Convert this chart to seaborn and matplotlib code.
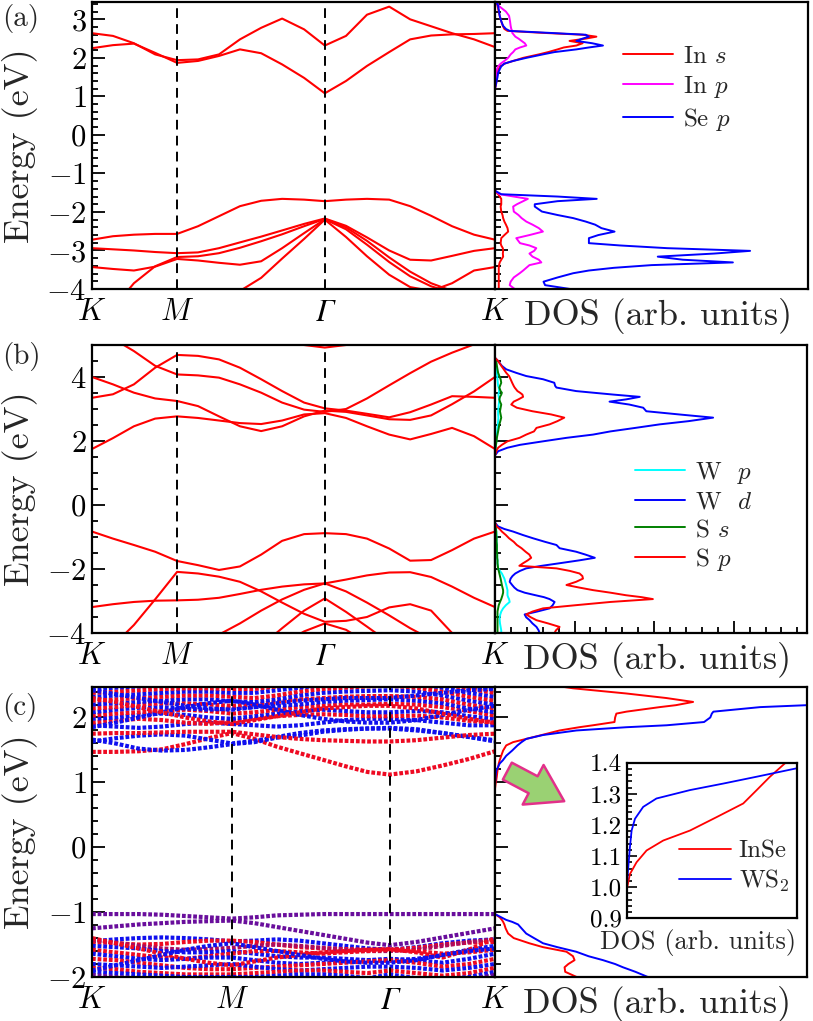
import matplotlib
matplotlib.use("Agg")
import numpy as np
import pandas as pd
import seaborn as sns
import matplotlib.pyplot as plt
from matplotlib.ticker import MultipleLocator, NullLocator, FormatStrFormatter
from matplotlib.patches import FancyArrowPatch
from matplotlib.colors import to_rgb

# ======================= DATA =======================
# k-path K-M-Gamma-K for panels (a) and (b)
k_ab = [0.000, 0.082, 0.164, 0.247, 0.333, 0.415, 0.497, 0.579, 0.662, 0.744,
        0.830, 0.911, 0.994, 1.076, 1.163, 1.245, 1.327, 1.409, 1.495, 1.577]
kpts_ab = [0.000, 0.333, 0.911, 1.577]
kpt_labels = ['$K$', '$M$', 'Γ', '$K$']

# (a) InSe bands (eV)
a_cb1 = [2.25, 2.33, 2.37, 2.13, 1.87, 1.92, 2.05, 2.22, 2.12, 1.83, 1.48, 1.08, 1.40, 1.79, 2.15, 2.48, 2.58, 2.61, 2.62, 2.64]
a_cb2 = [2.64, 2.57, 2.38, 2.09, 1.94, 1.96, 2.09, 2.48, 2.78, 3.02, 2.74, 2.32, 2.57, 3.12, 3.33, 3.00, 2.82, 2.64, 2.48, 2.28]
a_vb1 = [-2.72, -2.63, -2.59, -2.57, -2.57, -2.37, -2.11, -1.85, -1.71, -1.66, -1.68, -1.72, -1.68, -1.66, -1.68, -1.85, -2.10, -2.37, -2.59, -2.72]
a_vb2 = [-2.94, -2.97, -3.00, -3.04, -3.07, -3.05, -2.94, -2.79, -2.64, -2.48, -2.31, -2.17, -2.36, -2.66, -3.00, -3.24, -3.26, -3.14, -3.01, -2.94]
a_vb3 = [-3.43, -3.48, -3.52, -3.42, -3.22, -3.26, -3.32, -3.37, -3.28, -2.94, -2.55, -2.19, -2.45, -2.85, -3.30, -3.67, -3.93, -4.10, -4.30, -4.50]
a_vb4 = [-4.80, -4.50, -3.85, -3.41, -3.17, -3.15, -3.07, -2.93, -2.76, -2.58, -2.37, -2.18, -2.40, -2.75, -3.18, -3.55, -3.85, -4.05, -4.25, -4.40]
a_vb5 = [-6.00, -5.70, -5.40, -5.10, -4.90, -4.60, -4.30, -4.05, -3.71, -3.21, -2.70, -2.20, -2.65, -3.15, -3.63, -3.95, -4.05, -3.85, -3.52, -3.43]

# (b) WS2 bands (eV)
b_cb1 = [1.75, 2.09, 2.46, 2.70, 2.77, 2.72, 2.64, 2.56, 2.53, 2.64, 2.83, 2.87, 2.72, 2.46, 2.20, 2.05, 2.22, 2.41, 2.15, 1.75]
b_cb2 = [4.00, 3.77, 3.51, 3.33, 3.25, 3.09, 2.77, 2.46, 2.31, 2.46, 2.77, 2.95, 2.91, 2.80, 2.68, 2.66, 2.80, 3.15, 3.55, 4.00]
b_cb3 = [3.35, 3.46, 3.77, 4.29, 4.69, 4.66, 4.55, 4.29, 3.93, 3.56, 3.20, 3.02, 2.95, 2.85, 2.74, 2.90, 3.14, 3.40, 3.38, 3.35]
b_cb4 = [5.60, 5.20, 4.81, 4.35, 4.08, 4.05, 3.98, 3.77, 3.51, 3.20, 2.98, 2.91, 3.00, 3.33, 3.74, 4.12, 4.48, 4.76, 5.02, 5.30]
b_cb5 = [6.50, 6.30, 6.10, 5.90, 5.80, 5.70, 5.50, 5.35, 5.20, 5.08, 5.00, 4.92, 5.00, 5.08, 5.20, 5.40, 5.60, 5.80, 6.00, 6.20]
b_vb1 = [-0.83, -1.05, -1.25, -1.46, -1.75, -1.88, -2.03, -1.92, -1.55, -1.12, -0.91, -0.88, -0.91, -1.05, -1.36, -1.74, -1.72, -1.41, -1.05, -0.83]
b_vb2 = [-5.00, -4.40, -3.75, -2.95, -2.09, -2.14, -2.24, -2.40, -2.70, -3.05, -3.40, -3.65, -3.62, -3.50, -3.20, -3.10, -3.30, -4.00, -4.50, -4.90]
b_vb3 = [-3.19, -3.10, -3.03, -2.99, -2.98, -2.96, -2.90, -2.78, -2.65, -2.55, -2.48, -2.45, -2.33, -2.20, -2.11, -2.10, -2.25, -2.55, -2.90, -3.19]
b_vb4 = [-6.00, -5.60, -5.30, -5.00, -4.80, -4.60, -4.05, -3.70, -3.30, -2.95, -2.65, -2.45, -2.70, -3.05, -3.45, -3.85, -4.20, -4.50, -4.80, -5.00]
b_vb5 = [-6.50, -6.30, -6.10, -5.90, -5.70, -5.50, -5.20, -4.80, -4.40, -3.85, -3.30, -2.92, -3.34, -3.80, -4.30, -4.80, -5.20, -5.50, -5.80, -6.00]
b_vb6 = [-7.00, -6.80, -6.60, -6.40, -6.20, -6.00, -5.60, -5.10, -4.70, -4.35, -3.95, -3.70, -3.90, -4.30, -4.70, -5.10, -5.50, -5.80, -6.10, -6.30]

# (a) projected DOS (arb. units, fraction of axis width)
dosa_E_c = [3.45, 3.35, 3.20, 3.09, 2.95, 2.83, 2.75, 2.70, 2.65, 2.60, 2.55, 2.50, 2.44, 2.38,
            2.32, 2.27, 2.22, 2.15, 2.09, 2.00, 1.92, 1.85, 1.78, 1.70, 1.61, 1.50, 1.35, 1.20]
dosa_Ins_c = [0.005, 0.008, 0.012, 0.015, 0.02, 0.025, 0.03, 0.04, 0.15, 0.28, 0.324, 0.29, 0.238, 0.28,
              0.26, 0.22, 0.20, 0.17, 0.14, 0.09, 0.058, 0.03, 0.018, 0.01, 0.008, 0.006, 0.004, 0.0]
dosa_Inp_c = [0.005, 0.012, 0.035, 0.045, 0.048, 0.05, 0.052, 0.055, 0.055, 0.06, 0.065, 0.075, 0.085, 0.095,
              0.10, 0.08, 0.065, 0.058, 0.05, 0.042, 0.03, 0.018, 0.01, 0.006, 0.004, 0.003, 0.002, 0.0]
dosa_Sep_c = [0.005, 0.01, 0.013, 0.015, 0.02, 0.026, 0.035, 0.047, 0.17, 0.29, 0.30, 0.28, 0.26, 0.31,
              0.345, 0.30, 0.26, 0.19, 0.153, 0.10, 0.058, 0.03, 0.02, 0.015, 0.01, 0.008, 0.004, 0.0]
dosa_E_v = [-1.45, -1.54, -1.60, -1.66, -1.72, -1.80, -1.86, -1.99, -2.08, -2.16, -2.25, -2.33, -2.42, -2.51, -2.60, -2.68,
            -2.81, -2.87, -2.94, -3.01, -3.08, -3.16, -3.24, -3.31, -3.38, -3.45, -3.52, -3.59, -3.70, -3.81, -3.90, -4.00]
dosa_Ins_v = [0, 0.01, 0.015, 0.02, 0.02, 0.02, 0.018, 0.02, 0.024, 0.026, 0.03, 0.035, 0.04, 0.042, 0.03, 0.02,
              0.018, 0.02, 0.025, 0.026, 0.025, 0.026, 0.02, 0.015, 0.013, 0.012, 0.012, 0.012, 0.012, 0.012, 0.012, 0.012]
dosa_Inp_v = [0, 0.015, 0.06, 0.105, 0.09, 0.07, 0.058, 0.06, 0.075, 0.085, 0.10, 0.12, 0.14, 0.153, 0.11, 0.068,
              0.08, 0.11, 0.132, 0.125, 0.11, 0.12, 0.14, 0.148, 0.11, 0.10, 0.09, 0.079, 0.06, 0.05, 0.047, 0.063]
dosa_Sep_v = [0, 0.02, 0.20, 0.325, 0.20, 0.127, 0.127, 0.15, 0.20, 0.25, 0.29, 0.32, 0.34, 0.382, 0.33, 0.30,
              0.30, 0.40, 0.55, 0.815, 0.70, 0.52, 0.60, 0.76, 0.50, 0.38, 0.30, 0.25, 0.20, 0.155, 0.16, 0.24]

# (b) projected DOS
dosb_E_c = [5.0, 4.6, 4.50, 4.35, 4.24, 4.13, 4.03, 3.93, 3.82, 3.72, 3.67, 3.56, 3.51, 3.45, 3.38, 3.30, 3.23,
            3.14, 3.04, 2.93, 2.83, 2.73, 2.62, 2.52, 2.41, 2.30, 2.20, 2.10, 1.99, 1.88, 1.79, 1.68, 1.55, 1.40]
dosb_Wp_c = [0, 0, 0.003, 0.004, 0.005, 0.006, 0.007, 0.008, 0.009, 0.010, 0.012, 0.013, 0.012, 0.011, 0.012, 0.014, 0.013,
             0.012, 0.011, 0.010, 0.010, 0.011, 0.010, 0.009, 0.008, 0.007, 0.006, 0.005, 0.004, 0.003, 0.002, 0.001, 0, 0]
dosb_Wd_c = [0, 0, 0.01, 0.022, 0.036, 0.068, 0.10, 0.154, 0.19, 0.193, 0.197, 0.26, 0.314, 0.38, 0.464, 0.42, 0.367,
             0.43, 0.475, 0.485, 0.59, 0.699, 0.62, 0.528, 0.45, 0.37, 0.314, 0.23, 0.154, 0.08, 0.04, 0.01, 0, 0]
dosb_Ss_c = [0, 0, 0.004, 0.006, 0.008, 0.010, 0.014, 0.018, 0.020, 0.016, 0.014, 0.018, 0.022, 0.020, 0.016, 0.014, 0.016,
             0.020, 0.018, 0.016, 0.018, 0.020, 0.017, 0.014, 0.012, 0.010, 0.008, 0.006, 0.005, 0.003, 0.002, 0.001, 0, 0]
dosb_Sp_c = [0, 0, 0.01, 0.02, 0.028, 0.036, 0.045, 0.05, 0.055, 0.06, 0.063, 0.072, 0.08, 0.088, 0.09, 0.075, 0.06,
             0.052, 0.07, 0.12, 0.18, 0.222, 0.20, 0.175, 0.133, 0.125, 0.10, 0.079, 0.04, 0.022, 0.01, 0.004, 0, 0]
dosb_E_v = [-0.55, -0.67, -0.75, -0.83, -0.94, -1.04, -1.15, -1.25, -1.35, -1.46, -1.55, -1.65, -1.73, -1.82, -1.90,
            -1.98, -2.06, -2.14, -2.22, -2.30, -2.40, -2.50, -2.58, -2.66, -2.74, -2.82, -2.88, -2.94, -3.03, -3.13,
            -3.23, -3.33, -3.42, -3.51, -3.60, -3.70, -3.81, -3.92, -4.02]
dosb_Wp_v = [0, 0.002, 0.003, 0.004, 0.005, 0.005, 0.005, 0.006, 0.006, 0.006, 0.007, 0.007, 0.008, 0.008, 0.009,
             0.010, 0.016, 0.022, 0.026, 0.030, 0.033, 0.036, 0.038, 0.040, 0.040, 0.040, 0.042, 0.045, 0.047, 0.035,
             0.026, 0.020, 0.017, 0.015, 0.015, 0.016, 0.018, 0.020, 0.020]
dosb_Wd_v = [0, 0.01, 0.03, 0.058, 0.09, 0.122, 0.16, 0.197, 0.207, 0.26, 0.29, 0.32, 0.27, 0.207, 0.15,
             0.10, 0.08, 0.065, 0.056, 0.05, 0.047, 0.055, 0.062, 0.072, 0.095, 0.13, 0.157, 0.175, 0.191, 0.185,
             0.175, 0.135, 0.095, 0.10, 0.111, 0.12, 0.133, 0.14, 0.143]
dosb_Ss_v = [0, 0.002, 0.003, 0.004, 0.004, 0.005, 0.005, 0.006, 0.006, 0.006, 0.007, 0.007, 0.008, 0.008, 0.009,
             0.010, 0.012, 0.014, 0.016, 0.018, 0.020, 0.022, 0.024, 0.026, 0.026, 0.024, 0.022, 0.020, 0.016, 0.012,
             0.010, 0.008, 0.008, 0.008, 0.008, 0.008, 0.008, 0.008, 0.008]
dosb_Sp_v = [0, 0.005, 0.015, 0.022, 0.035, 0.045, 0.06, 0.07, 0.085, 0.098, 0.11, 0.116, 0.105, 0.09, 0.078,
             0.197, 0.24, 0.271, 0.28, 0.282, 0.26, 0.229, 0.27, 0.314, 0.37, 0.42, 0.47, 0.506, 0.37, 0.26,
             0.154, 0.12, 0.10, 0.115, 0.133, 0.17, 0.207, 0.195, 0.19]

# (c) InSe/WS2 heterostructure bands, k-path of the supercell
k_c = [0.000, 0.058, 0.116, 0.174, 0.232, 0.289, 0.347, 0.403, 0.459, 0.515, 0.572, 0.628, 0.684, 0.739,
       0.805, 0.870, 0.935, 1.000]
kpts_c = [0.000, 0.347, 0.739, 1.000]
# each band: energies on k_c; weights: InSe character (1 = InSe, 0 = WS2)
c_cond_bands = [
    [1.47, 1.47, 1.48, 1.51, 1.59, 1.68, 1.76, 1.67, 1.55, 1.45, 1.35, 1.25, 1.16, 1.12, 1.17, 1.26, 1.36, 1.48],
    [1.66, 1.60, 1.52, 1.49, 1.50, 1.54, 1.59, 1.62, 1.69, 1.72, 1.78, 1.81, 1.83, 1.83, 1.80, 1.76, 1.70, 1.65],
    [1.63, 1.68, 1.72, 1.74, 1.72, 1.66, 1.60, 1.64, 1.70, 1.76, 1.80, 1.82, 1.83, 1.84, 1.82, 1.76, 1.70, 1.63],
    [1.75, 1.76, 1.76, 1.77, 1.78, 1.78, 1.78, 1.74, 1.70, 1.67, 1.65, 1.64, 1.63, 1.63, 1.65, 1.69, 1.73, 1.75],
    [1.88, 1.86, 1.84, 1.86, 1.90, 1.92, 1.90, 1.88, 1.86, 1.88, 1.92, 1.96, 1.98, 1.98, 1.96, 1.92, 1.88, 1.88],
    [1.92, 1.95, 1.98, 1.96, 1.92, 1.90, 1.94, 1.98, 2.02, 2.04, 2.05, 2.04, 2.02, 2.02, 2.03, 2.00, 1.95, 1.92],
    [1.98, 2.00, 2.04, 2.06, 2.04, 2.00, 1.98, 2.02, 2.06, 2.10, 2.12, 2.10, 2.08, 2.08, 2.10, 2.08, 2.02, 1.98],
    [2.03, 2.06, 2.08, 2.10, 2.12, 2.10, 2.06, 2.08, 2.12, 2.16, 2.18, 2.20, 2.20, 2.21, 2.20, 2.16, 2.10, 2.03],
    [2.08, 2.12, 2.15, 2.16, 2.14, 2.12, 2.14, 2.16, 2.18, 2.20, 2.24, 2.26, 2.27, 2.28, 2.26, 2.22, 2.14, 2.08],
    [2.14, 2.16, 2.20, 2.22, 2.22, 2.20, 2.18, 2.20, 2.24, 2.28, 2.30, 2.32, 2.33, 2.33, 2.32, 2.28, 2.20, 2.14],
    [2.20, 2.22, 2.24, 2.26, 2.28, 2.28, 2.25, 2.24, 2.28, 2.34, 2.38, 2.40, 2.41, 2.42, 2.40, 2.34, 2.26, 2.20],
    [2.26, 2.28, 2.30, 2.32, 2.34, 2.34, 2.32, 2.30, 2.34, 2.40, 2.44, 2.46, 2.48, 2.49, 2.46, 2.40, 2.32, 2.26],
    [2.32, 2.34, 2.36, 2.38, 2.40, 2.40, 2.38, 2.38, 2.42, 2.46, 2.50, 2.52, 2.54, 2.54, 2.52, 2.46, 2.38, 2.32],
    [2.38, 2.40, 2.42, 2.44, 2.45, 2.45, 2.44, 2.44, 2.48, 2.52, 2.56, 2.58, 2.60, 2.60, 2.58, 2.52, 2.44, 2.38],
    [2.44, 2.46, 2.48, 2.50, 2.52, 2.52, 2.50, 2.50, 2.54, 2.58, 2.62, 2.64, 2.66, 2.66, 2.64, 2.58, 2.50, 2.44],
    [1.85, 1.92, 2.00, 2.08, 2.16, 2.22, 2.26, 2.20, 2.12, 2.04, 1.98, 1.94, 1.92, 1.92, 1.96, 2.04, 2.12, 2.18],
    [2.30, 2.24, 2.16, 2.08, 2.00, 1.94, 1.90, 1.96, 2.02, 2.08, 2.14, 2.16, 2.18, 2.18, 2.14, 2.06, 1.98, 1.92],
    [2.42, 2.36, 2.30, 2.24, 2.18, 2.14, 2.12, 2.16, 2.22, 2.26, 2.28, 2.30, 2.30, 2.30, 2.34, 2.38, 2.42, 2.44],
]
c_cond_weight = [1, 0, 0, 1, 0, 1, 0, 1, 0, 1, 0, 1, 0, 1, 0, 0, 1, 0]
c_val_bands = [
    [-1.03, -1.03, -1.03, -1.04, -1.06, -1.08, -1.10, -1.08, -1.05, -1.04, -1.03, -1.03, -1.03, -1.03, -1.03, -1.03, -1.03, -1.03],
    [-1.25, -1.22, -1.19, -1.17, -1.15, -1.14, -1.13, -1.17, -1.23, -1.29, -1.35, -1.41, -1.47, -1.51, -1.46, -1.39, -1.32, -1.25],
    [-1.45, -1.42, -1.40, -1.39, -1.40, -1.42, -1.45, -1.44, -1.42, -1.44, -1.48, -1.52, -1.56, -1.58, -1.54, -1.48, -1.44, -1.42],
    [-1.46, -1.48, -1.50, -1.49, -1.46, -1.44, -1.44, -1.46, -1.50, -1.54, -1.56, -1.57, -1.58, -1.58, -1.55, -1.50, -1.47, -1.46],
    [-1.42, -1.47, -1.52, -1.56, -1.58, -1.57, -1.55, -1.52, -1.50, -1.52, -1.55, -1.58, -1.60, -1.60, -1.58, -1.52, -1.46, -1.42],
    [-1.52, -1.54, -1.56, -1.60, -1.62, -1.62, -1.60, -1.64, -1.68, -1.70, -1.70, -1.72, -1.74, -1.75, -1.72, -1.66, -1.58, -1.52],
    [-1.58, -1.62, -1.66, -1.70, -1.72, -1.68, -1.64, -1.60, -1.60, -1.62, -1.64, -1.62, -1.60, -1.58, -1.60, -1.64, -1.62, -1.58],
    [-1.64, -1.68, -1.72, -1.74, -1.72, -1.70, -1.70, -1.74, -1.78, -1.80, -1.78, -1.76, -1.74, -1.72, -1.74, -1.78, -1.72, -1.64],
    [-1.72, -1.74, -1.78, -1.82, -1.86, -1.88, -1.88, -1.86, -1.84, -1.82, -1.80, -1.78, -1.76, -1.74, -1.78, -1.84, -1.80, -1.72],
    [-1.80, -1.82, -1.84, -1.86, -1.84, -1.82, -1.80, -1.84, -1.88, -1.90, -1.88, -1.86, -1.84, -1.84, -1.86, -1.90, -1.86, -1.80],
    [-1.86, -1.88, -1.92, -1.94, -1.96, -1.96, -1.96, -1.94, -1.92, -1.90, -1.90, -1.92, -1.94, -1.90, -1.94, -1.98, -1.94, -1.86],
    [-1.92, -1.94, -1.96, -1.98, -2.00, -2.00, -2.00, -2.00, -1.98, -1.96, -1.96, -1.98, -2.02, -1.96, -2.02, -2.04, -2.00, -1.92],
    [-1.97, -2.00, -2.02, -2.04, -2.05, -2.05, -2.04, -2.04, -2.04, -2.04, -2.04, -2.06, -2.08, -2.08, -2.08, -2.08, -2.04, -1.97],
    [-1.40, -1.48, -1.56, -1.64, -1.72, -1.78, -1.82, -1.76, -1.70, -1.66, -1.62, -1.60, -1.58, -1.57, -1.62, -1.70, -1.58, -1.40],
    [-1.90, -1.82, -1.74, -1.66, -1.58, -1.52, -1.48, -1.54, -1.60, -1.66, -1.72, -1.76, -1.78, -1.78, -1.74, -1.66, -1.60, -1.56],
]
c_val_weight = [0.4, 0.4, 0, 1, 0.7, 0, 1, 0, 1, 0, 1, 0, 0.4, 1, 0]

# (c) total DOS of the two layers
dosc_E_c = [2.50, 2.45, 2.37, 2.30, 2.24, 2.19, 2.16, 2.09, 2.06, 2.00, 1.93, 1.88, 1.85, 1.80,
            1.73, 1.67, 1.62, 1.57, 1.49, 1.41, 1.34, 1.29, 1.23, 1.18, 1.10, 1.03, 0.98, 0.90]
dosc_InSe_c = [0.18, 0.25, 0.421, 0.549, 0.635, 0.58, 0.528, 0.421, 0.389, 0.385, 0.383, 0.314, 0.27, 0.207,
               0.15, 0.10, 0.058, 0.036, 0.026, 0.02, 0.015, 0.012, 0.01, 0.008, 0.006, 0.004, 0.002, 0.0]
dosc_WS2_c = [1.3, 1.25, 1.15, 1.08, 1.04, 1.0, 0.85, 0.70, 0.695, 0.69, 0.67, 0.55, 0.421, 0.261,
              0.154, 0.10, 0.085, 0.072, 0.055, 0.036, 0.025, 0.015, 0.009, 0.004, 0.002, 0.001, 0.0, 0.0]
dosc_E_v = [-0.95, -1.03, -1.08, -1.12, -1.15, -1.19, -1.25, -1.33, -1.40, -1.48, -1.54, -1.61, -1.68,
            -1.74, -1.80, -1.85, -1.92, -2.02]
dosc_InSe_v = [0, 0.0, 0.015, 0.022, 0.026, 0.03, 0.034, 0.042, 0.06, 0.11, 0.154, 0.229, 0.25, 0.255,
               0.235, 0.223, 0.225, 0.271]
dosc_WS2_v = [0, 0.0, 0.02, 0.036, 0.055, 0.074, 0.085, 0.10, 0.125, 0.154, 0.20, 0.26, 0.30, 0.346,
              0.385, 0.41, 0.45, 0.50]

# inset: conduction band edge DOS
ins_E_InSe = [0.96, 0.988, 1.042, 1.080, 1.118, 1.150, 1.182, 1.225, 1.269, 1.312, 1.355, 1.398, 1.41]
ins_dos_InSe = [0.0, 0.0, 0.02, 0.059, 0.118, 0.216, 0.373, 0.529, 0.686, 0.765, 0.843, 0.931, 0.95]
ins_E_WS2 = [0.90, 0.913, 1.021, 1.128, 1.182, 1.220, 1.258, 1.285, 1.312, 1.333, 1.355, 1.382]
ins_dos_WS2 = [0.0, 0.0, 0.004, 0.02, 0.03, 0.05, 0.098, 0.176, 0.373, 0.569, 0.765, 1.0]

# ======================= STYLE =======================
sns.set_theme(style="ticks")
plt.rcParams.update({
    "font.family": "serif",
    "font.serif": ["cmr10"],
    "mathtext.fontset": "cm",
    "axes.formatter.use_mathtext": True,
    "axes.unicode_minus": True,
    "axes.linewidth": 1.6,
    "axes.edgecolor": "black",
    "axes.facecolor": "white",
    "figure.facecolor": "white",
    "xtick.color": "black",
    "ytick.color": "black",
})

RED, MAG, BLUE, CYAN, GREEN = "#ff0000", "#ff00ff", "#0000ff", "#00ffff", "#008000"
C_RED, C_BLUE = "#ee0a22", "#1010ee"
W, H = 813, 1021
TICK_FS = 22
fig = plt.figure(figsize=(W / 100, H / 100), dpi=100)


def rect(l, t, r, b):
    return [l / W, 1 - b / H, (r - l) / W, (b - t) / H]


def line(ax, x, y, color, lw=1.4, label=None, **kw):
    sns.lineplot(x=x, y=y, ax=ax, color=color, linewidth=lw, sort=False,
                 estimator=None, label=label, legend=False, **kw)


def style_band_ax(ax, kpts, ylim, major, minor):
    ax.set_xlim(kpts[0], kpts[-1])
    ax.set_ylim(*ylim)
    for kp in kpts[1:-1]:
        ax.axvline(kp, color="black", lw=1.4, ls=(0, (5, 3.2)), zorder=5)
    ax.set_xticks(kpts)
    labs = ax.set_xticklabels(kpt_labels)
    for t in labs:
        if t.get_text() == 'Γ':
            t.set_fontfamily('STIXGeneral')
            t.set_fontstyle('italic')
    ax.xaxis.set_minor_locator(NullLocator())
    ax.tick_params(axis="x", which="both", length=0, pad=7, labelsize=TICK_FS)
    ax.yaxis.set_major_locator(MultipleLocator(major))
    ax.yaxis.set_minor_locator(MultipleLocator(minor))
    ax.tick_params(axis="y", which="both", direction="in", left=True, right=False,
                   labelsize=TICK_FS, width=1.3, pad=4)
    ax.tick_params(axis="y", which="major", length=9)
    ax.tick_params(axis="y", which="minor", length=4.5)
    ax.set_xlabel("")
    ax.set_ylabel("Energy (eV)", fontsize=26)
    ax.yaxis.set_label_coords(-0.135, 0.5)


def style_dos_ax(ax, ylim, major, minor, xticks=False):
    ax.set_xlim(0, 1)
    ax.set_ylim(*ylim)
    ax.yaxis.set_major_locator(MultipleLocator(major))
    ax.yaxis.set_minor_locator(MultipleLocator(minor))
    ax.tick_params(axis="y", which="both", direction="in", left=True, right=False,
                   labelleft=False, width=1.3)
    ax.tick_params(axis="y", which="major", length=9)
    ax.tick_params(axis="y", which="minor", length=4.5)
    if xticks:
        ax.xaxis.set_major_locator(MultipleLocator(0.255))
        ax.xaxis.set_minor_locator(MultipleLocator(0.051))
        ax.tick_params(axis="x", which="both", direction="in", bottom=True, top=False,
                       labelbottom=False, width=1.3)
        ax.tick_params(axis="x", which="major", length=9)
        ax.tick_params(axis="x", which="minor", length=4.5)
    else:
        ax.xaxis.set_major_locator(NullLocator())
        ax.xaxis.set_minor_locator(NullLocator())
    ax.set_ylabel("")
    ax.set_xlabel("DOS (arb. units)", fontsize=26)
    ax.xaxis.set_label_coords(0.52, -0.03)


# ---------------- panel (a) ----------------
ylim_a = (-4.0, 3.45)
ax_a = fig.add_axes(rect(92, 2, 495, 289))
for band in [a_cb1, a_cb2, a_vb1, a_vb2, a_vb3, a_vb4, a_vb5]:
    line(ax_a, k_ab, band, RED, lw=1.5)
style_band_ax(ax_a, kpts_ab, ylim_a, 1, 0.2)

axd_a = fig.add_axes(rect(495, 2, 808, 289))
line(axd_a, dosa_Ins_c, dosa_E_c, RED, label="In $s$")
line(axd_a, dosa_Ins_v, dosa_E_v, RED)
line(axd_a, dosa_Inp_c, dosa_E_c, MAG, label="In $p$")
line(axd_a, dosa_Inp_v, dosa_E_v, MAG)
line(axd_a, dosa_Sep_c, dosa_E_c, BLUE, label="Se $p$")
line(axd_a, dosa_Sep_v, dosa_E_v, BLUE)
style_dos_ax(axd_a, ylim_a, 1, 0.2)
axd_a.legend(loc="upper left", bbox_to_anchor=(0.41, 0.85), frameon=False, fontsize=18,
             handlelength=2.0, handletextpad=0.4, labelspacing=0.25, borderpad=0, borderaxespad=0)

# ---------------- panel (b) ----------------
ylim_b = (-4.0, 5.0)
ax_b = fig.add_axes(rect(92, 345, 495, 633))
for band in [b_cb1, b_cb2, b_cb3, b_cb4, b_cb5, b_vb1, b_vb2, b_vb3, b_vb4, b_vb5, b_vb6]:
    line(ax_b, k_ab, band, RED, lw=1.5)
style_band_ax(ax_b, kpts_ab, ylim_b, 2, 0.5)

axd_b = fig.add_axes(rect(495, 345, 807, 633))
line(axd_b, dosb_Wp_c, dosb_E_c, CYAN, label="W  $p$")
line(axd_b, dosb_Wp_v, dosb_E_v, CYAN)
line(axd_b, dosb_Wd_c, dosb_E_c, BLUE, label="W  $d$")
line(axd_b, dosb_Wd_v, dosb_E_v, BLUE)
line(axd_b, dosb_Ss_c, dosb_E_c, GREEN, label="S $s$")
line(axd_b, dosb_Ss_v, dosb_E_v, GREEN)
line(axd_b, dosb_Sp_c, dosb_E_c, RED, label="S $p$")
line(axd_b, dosb_Sp_v, dosb_E_v, RED)
style_dos_ax(axd_b, ylim_b, 2, 0.5, xticks=True)
axd_b.legend(loc="upper left", bbox_to_anchor=(0.45, 0.60), frameon=False, fontsize=18,
             handlelength=2.0, handletextpad=0.4, labelspacing=0.2, borderpad=0, borderaxespad=0)

# ---------------- panel (c) ----------------
ylim_c = (-2.0, 2.47)
ax_c = fig.add_axes(rect(92, 687, 495, 977))
r1, b1 = np.array(to_rgb(C_RED)), np.array(to_rgb(C_BLUE))


def mix(w):
    return tuple(w * r1 + (1 - w) * b1)


for band, w in zip(c_cond_bands + c_val_bands, c_cond_weight + c_val_weight):
    line(ax_c, k_c, band, mix(w), lw=3.0, linestyle=(0, (0.9, 0.45)))
style_band_ax(ax_c, kpts_c, ylim_c, 1, 0.2)

axd_c = fig.add_axes(rect(495, 687, 807, 977))
line(axd_c, dosc_InSe_c, dosc_E_c, RED)
line(axd_c, dosc_InSe_v, dosc_E_v, RED)
line(axd_c, dosc_WS2_c, dosc_E_c, BLUE)
line(axd_c, dosc_WS2_v, dosc_E_v, BLUE)
style_dos_ax(axd_c, ylim_c, 1, 0.2)

# inset
ax_in = fig.add_axes(rect(626.5, 762.7, 796.7, 918.3))
line(ax_in, ins_dos_InSe, ins_E_InSe, RED, lw=1.3, label="InSe")
line(ax_in, ins_dos_WS2, ins_E_WS2, BLUE, lw=1.3, label="WS$_2$")
ax_in.set_xlim(0, 1)
ax_in.set_ylim(0.9, 1.4)
ax_in.yaxis.set_major_locator(MultipleLocator(0.1))
ax_in.yaxis.set_minor_locator(MultipleLocator(0.02))
ax_in.yaxis.set_major_formatter(FormatStrFormatter("%.1f"))
ax_in.xaxis.set_major_locator(NullLocator())
ax_in.xaxis.set_minor_locator(NullLocator())
ax_in.tick_params(axis="y", which="both", direction="in", left=True, right=False,
                  labelsize=18, width=1.2, pad=3)
ax_in.tick_params(axis="y", which="major", length=7)
ax_in.tick_params(axis="y", which="minor", length=3.5)
ax_in.set_ylabel("")
ax_in.set_xlabel("DOS (arb. units)", fontsize=19)
ax_in.xaxis.set_label_coords(0.42, -0.07)
ax_in.legend(loc="lower right", bbox_to_anchor=(1.0, 0.11), frameon=False, fontsize=18,
             handlelength=2.1, handletextpad=0.3, labelspacing=0.2, borderpad=0, borderaxespad=0.3)

# arrow pointing to the band-edge region
arrow = FancyArrowPatch((0.621, 0.246), (0.697, 0.214), transform=fig.transFigure,
                        arrowstyle="simple,head_length=1.1,head_width=1.4,tail_width=0.6",
                        mutation_scale=23, fc="#9ad173", ec="#e2308a", lw=1.8)
fig.patches.append(arrow)

# panel labels
fig.text(0.003, 0.996, "(a)", fontsize=21, va="top", ha="left")
fig.text(0.003, 0.665, "(b)", fontsize=21, va="top", ha="left")
fig.text(0.003, 0.321, "(c)", fontsize=21, va="top", ha="left")

fig.savefig("out.png", dpi=100)
